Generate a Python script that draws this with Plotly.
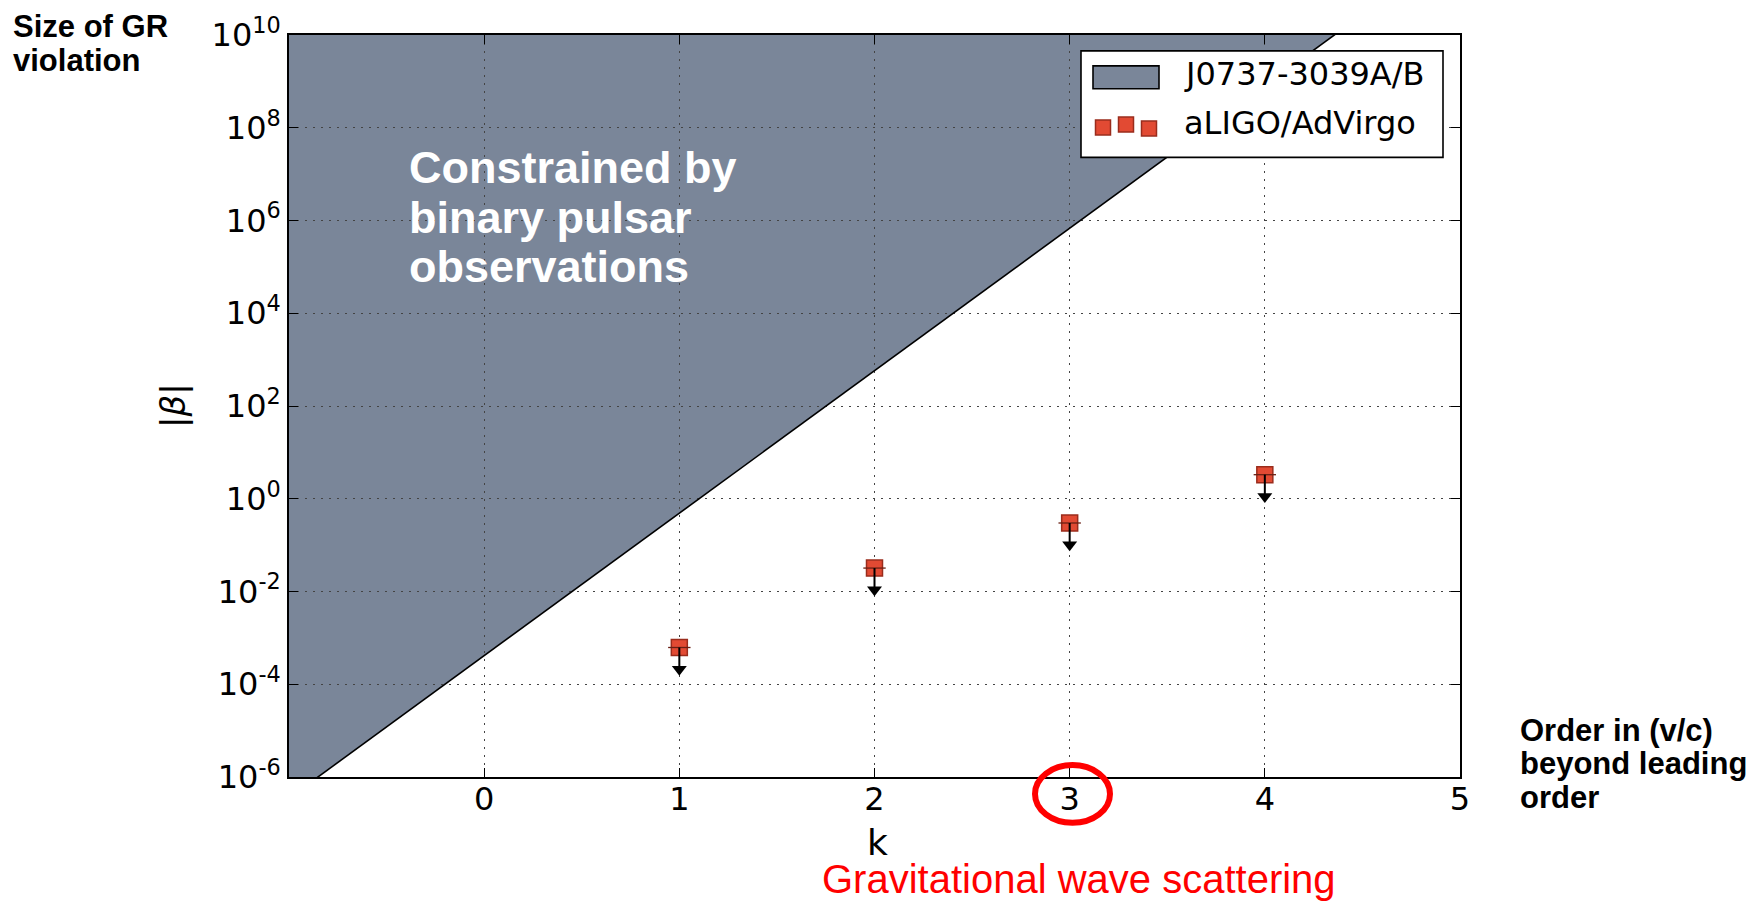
import plotly.graph_objects as go

# ppE expansion order k and the aLIGO/AdVirgo upper limits on |beta|
k_orders = [1, 2, 3, 4]
beta_ligo = [6.2e-4, 3.2e-2, 0.30, 3.3]

# Double-pulsar J0737-3039A/B bound: everything above this line is excluded
k_pulsar = [-1, 5]
beta_pulsar = [3.5e-7, 9.5e11]

x_tick_vals = [0, 1, 2, 3, 4, 5]
y_tick_vals = [1e-6, 1e-4, 1e-2, 1e0, 1e2, 1e4, 1e6, 1e8, 1e10]
y_tick_text = ["10<sup>-6</sup>", "10<sup>-4</sup>", "10<sup>-2</sup>", "10<sup>0</sup>",
               "10<sup>2</sup>", "10<sup>4</sup>", "10<sup>6</sup>", "10<sup>8</sup>",
               "10<sup>10</sup>"]

legend_labels = ["J0737-3039A/B", "aLIGO/AdVirgo"]
region_lines = ["Constrained by", "binary pulsar", "observations"]
y_title_lines = ["Size of GR", "violation"]
x_title_lines = ["Order in (v/c)", "beyond leading", "order"]
highlight_text = "Gravitational wave scattering"

# ---- styling / geometry ----
W, H = 1758, 902
PL, PR, PT, PB = 289, 1460, 31, 777          # plot area in pixels
PULSAR_GRAY = "rgb(122,134,153)"
LIGO_RED = "#E24A33"
LIGO_EDGE = "#9a2c1c"
ARROW_DECADES = 0.47                           # length of the upper-limit arrow
CEILING = 1e14                                 # closes the excluded region above the plot
TICK_FONT = dict(family="DejaVu Sans", size=32, color="black")
BOLD = "Liberation Sans"


def px(x):
    return (x - PL) / (PR - PL)


def py(y):
    return (PB - y) / (PB - PT)


def num(v):
    return f"{v:.12f}"


fig = go.Figure()

# boundary of the pulsar bound
fig.add_trace(go.Scatter(x=k_pulsar, y=beta_pulsar, mode="lines",
                         line=dict(color="black", width=1.6),
                         showlegend=False, hoverinfo="skip"))

# aLIGO/AdVirgo upper limits
fig.add_trace(go.Scatter(x=k_orders, y=beta_ligo, mode="markers",
                         marker=dict(symbol="square", size=16, color=LIGO_RED,
                                     line=dict(color=LIGO_EDGE, width=1.5)),
                         showlegend=False))
fig.add_trace(go.Scatter(x=k_orders, y=beta_ligo, mode="markers",
                         marker=dict(symbol="line-ew", size=16,
                                     line=dict(color="#6a1f14", width=1.3)),
                         showlegend=False, hoverinfo="skip"))

arrow_tip = [v * 10 ** (-ARROW_DECADES) for v in beta_ligo]
shaft_x, shaft_y = [], []
for k, v, t in zip(k_orders, beta_ligo, arrow_tip):
    shaft_x += [k, k, None]
    shaft_y += [v, t, None]
fig.add_trace(go.Scatter(x=shaft_x, y=shaft_y, mode="lines",
                         line=dict(color="black", width=2),
                         showlegend=False, hoverinfo="skip"))
fig.add_trace(go.Scatter(x=k_orders, y=arrow_tip, mode="markers",
                         marker=dict(symbol="triangle-down", size=13, color="black",
                                     line=dict(width=0)),
                         showlegend=False, hoverinfo="skip"))

axis_common = dict(showline=True, linecolor="black", linewidth=1.6, mirror="ticks",
                   ticks="inside", ticklen=9, tickwidth=1.4, tickcolor="black",
                   showgrid=True, gridcolor="#444444", gridwidth=1, griddash="2px,6px",
                   zeroline=False, tickfont=TICK_FONT)

fig.update_xaxes(range=[-1, 5], tickmode="array", tickvals=x_tick_vals,
                 ticktext=[str(v) for v in x_tick_vals], ticklabelstandoff=-7,
                 **axis_common)
fig.update_yaxes(type="log", range=[-6, 10], tickmode="array", tickvals=y_tick_vals,
                 ticktext=y_tick_text, **axis_common)

annotations = []
shapes = []

# excluded region (drawn below the grid so the dotted grid shows on top)
region_path = (f"M {num(k_pulsar[0])},{num(beta_pulsar[0])} "
               f"L {num(k_pulsar[1])},{num(beta_pulsar[1])} "
               f"L {num(k_pulsar[1])},{num(CEILING)} "
               f"L {num(k_pulsar[0])},{num(CEILING)} Z")
shapes.append(dict(type="path", path=region_path, xref="x", yref="y",
                   fillcolor=PULSAR_GRAY, line=dict(width=0), layer="below"))

# text inside the excluded region
for line, yc in zip(region_lines, [164, 214, 264]):
    annotations.append(dict(text=f"<b>{line}</b>", x=px(407), y=py(yc),
                            xanchor="left", yanchor="middle",
                            font=dict(family=BOLD, size=45, color="white")))

# outer axis captions
for line, yc in zip(y_title_lines, [22, 57]):
    annotations.append(dict(text=f"<b>{line}</b>", x=px(11), y=py(yc),
                            xanchor="left", yanchor="middle",
                            font=dict(family=BOLD, size=31, color="black")))
for line, yc in zip(x_title_lines, [730, 763, 798]):
    annotations.append(dict(text=f"<b>{line}</b>", x=px(1518), y=py(yc),
                            xanchor="left", yanchor="middle",
                            font=dict(family=BOLD, size=31, color="black")))

annotations.append(dict(text="k", x=px(877), y=py(843), xanchor="center", yanchor="middle",
                        font=dict(family="DejaVu Sans", size=36, color="black")))
annotations.append(dict(text="|<i>β</i>|", x=px(173), y=py(404), xanchor="center",
                        yanchor="middle", textangle=-90,
                        font=dict(family="DejaVu Sans", size=34, color="black")))

annotations.append(dict(text=highlight_text, x=px(1079), y=py(880),
                        xanchor="center", yanchor="middle",
                        font=dict(family="Liberation Sans", size=40, color="#ff0000")))
shapes.append(dict(type="circle", xref="paper", yref="paper",
                   x0=px(1035), x1=px(1110), y0=py(823), y1=py(765),
                   line=dict(color="#ff0000", width=6), layer="above"))

# legend box
shapes.append(dict(type="rect", xref="paper", yref="paper",
                   x0=px(1081), x1=px(1443), y0=py(154), y1=py(47),
                   fillcolor="white", line=dict(color="black", width=1.6), layer="above"))
shapes.append(dict(type="rect", xref="paper", yref="paper",
                   x0=px(1093), x1=px(1159), y0=py(85), y1=py(62),
                   fillcolor=PULSAR_GRAY, line=dict(color="black", width=1.6), layer="above"))
for cx, cy in [(1103, 124), (1126, 121), (1149, 125)]:
    shapes.append(dict(type="rect", xref="paper", yref="paper",
                       x0=px(cx - 7.5), x1=px(cx + 7.5), y0=py(cy + 7.5), y1=py(cy - 7.5),
                       fillcolor=LIGO_RED, line=dict(color=LIGO_EDGE, width=1.5),
                       layer="above"))
for label, yc in zip(legend_labels, [70, 119]):
    annotations.append(dict(text=label, x=px(1182), y=py(yc), xanchor="left",
                            yanchor="middle",
                            font=dict(family="DejaVu Sans", size=32, color="black")))

for a in annotations:
    a.setdefault("xref", "paper")
    a.setdefault("yref", "paper")
    a.setdefault("showarrow", False)

fig.update_layout(width=W, height=H,
                  margin=dict(l=PL, r=W - PR, t=PT, b=H - PB, pad=0),
                  paper_bgcolor="white", plot_bgcolor="white",
                  showlegend=False, annotations=annotations, shapes=shapes)

fig.write_html("out.html")
